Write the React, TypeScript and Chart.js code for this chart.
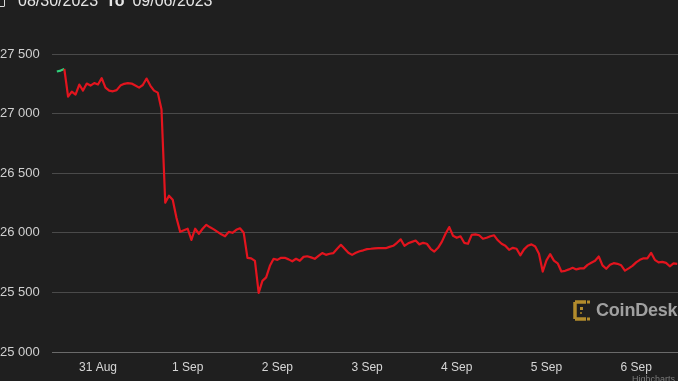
import React, { useEffect, useRef } from "react";
import { Chart, registerables } from "chart.js";

Chart.register(...registerables);

// Hourly BTC price, hours counted from 31 Aug 2023 00:00
const startHour = -11;
const prices = [
  27353, 27361, 27374, 27143, 27185, 27160, 27244, 27193, 27252, 27235, 27256,
  27244, 27298, 27218, 27193, 27187, 27197, 27235, 27250, 27256, 27252, 27235, 27218, 27240, 27294, 27235, 27193, 27176,
  27034, 26252, 26311, 26277, 26126, 26008, 26021, 26034, 25941, 26034, 25992, 26034, 26067, 26046, 26029, 26008, 25987, 25971, 26008, 26000, 26025, 26038, 26000,
  25790, 25786, 25765, 25496, 25597, 25626, 25723, 25782, 25773, 25790, 25790, 25777, 25761, 25782, 25765, 25798, 25803, 25794, 25782, 25807, 25830, 25815, 25824, 25830,
  25866, 25899, 25866, 25832, 25815, 25832, 25845, 25853, 25863, 25866, 25870, 25871, 25871, 25871, 25882, 25891, 25916, 25945, 25891, 25912, 25924, 25935, 25903, 25916,
  25908, 25866, 25843, 25874, 25924, 25992, 26048, 25975, 25958, 25971, 25916, 25908, 25983, 25987, 25979, 25950, 25958, 25971, 25979, 25937, 25908, 25891, 25857, 25874,
  25866, 25811, 25861, 25891, 25903, 25885, 25824, 25675, 25769, 25821, 25767, 25744, 25675, 25681, 25693, 25706, 25693, 25702, 25702, 25731, 25748, 25765, 25801, 25727,
  25698, 25731, 25745, 25740, 25727, 25683, 25702, 25723, 25752, 25773, 25786, 25786, 25832, 25773, 25752, 25756, 25748, 25719, 25744, 25740,
];
const tickHours = [0, 24, 48, 72, 96, 120, 144];
const tickLabels = ["31 Aug", "1 Sep", "2 Sep", "3 Sep", "4 Sep", "5 Sep", "6 Sep"];
const yTicks = [25000, 25500, 26000, 26500, 27000, 27500];
const rangeFrom = "08/30/2023";
const rangeTo = "09/06/2023";

const FONT = '"Liberation Sans", Arial, Helvetica, sans-serif';
const RED = "#e3141e";
const GREEN = "#2fd07a";

function fmt(v: number) {
  const th = Math.floor(v / 1000);
  const rest = String(v % 1000).padStart(3, "0");
  return `${th} ${rest}`;
}

export default function App() {
  const ref = useRef<HTMLCanvasElement | null>(null);

  useEffect(() => {
    if (!ref.current) return;
    const threshold = prices[0];
    const chart = new Chart(ref.current, {
      type: "line",
      data: {
        datasets: [
          {
            data: prices.map((p, i) => ({ x: startHour + i, y: p })),
            borderColor: RED,
            borderWidth: 2.2,
            pointRadius: 0,
            tension: 0,
            borderJoinStyle: "round",
            segment: {
              borderColor: (ctx: any) =>
                ctx.p0.parsed.y >= threshold && ctx.p1.parsed.y >= threshold ? GREEN : RED,
            },
          },
        ],
      },
      options: {
        responsive: false,
        animation: false,
        layout: { padding: { top: 54, left: 0, right: 0, bottom: 0 } },
        plugins: { legend: { display: false }, tooltip: { enabled: false } },
        scales: {
          x: {
            type: "linear",
            min: -12.3,
            max: 155.2,
            afterBuildTicks: (scale: any) => {
              scale.ticks = tickHours.map((v) => ({ value: v }));
            },
            afterFit: (scale: any) => {
              scale.height = 29;
            },
            grid: { display: false, drawTicks: false },
            border: { display: false },
            ticks: {
              autoSkip: false,
              maxRotation: 0,
              padding: 8,
              color: "#d6d6d6",
              font: { family: FONT, size: 12 },
              callback: (v: any) => {
                const i = tickHours.indexOf(Number(v));
                return i >= 0 ? tickLabels[i] : "";
              },
            },
          },
          y: {
            min: 25000,
            max: 27500,
            afterBuildTicks: (scale: any) => {
              scale.ticks = yTicks.map((v) => ({ value: v }));
            },
            afterFit: (scale: any) => {
              scale.width = 52;
            },
            grid: {
              drawTicks: false,
              lineWidth: 1,
              color: (ctx: any) => (ctx.tick && ctx.tick.value === 25000 ? "#6a6a6a" : "#4a4a4a"),
            },
            border: { display: false },
            ticks: {
              crossAlign: "far",
              padding: 0,
              color: "#d0d0d0",
              font: { family: FONT, size: 13 },
              callback: (v: any) => fmt(Number(v)),
            },
          },
        },
      },
    } as any);
    return () => chart.destroy();
  }, []);

  return (
    <div
      style={{
        position: "fixed",
        left: 0,
        top: 0,
        width: 678,
        height: 381,
        background: "#1f1f1f",
        overflow: "hidden",
        fontFamily: FONT,
      }}
    >
      <canvas ref={ref} width={678} height={381} style={{ position: "absolute", left: 0, top: 0 }} />
      <div
        style={{
          position: "absolute",
          left: -7,
          top: -7,
          width: 10,
          height: 12,
          border: "1.5px solid #d8d8d8",
          borderRadius: 1,
        }}
      />
      <div
        style={{
          position: "absolute",
          left: 18,
          top: -7,
          fontSize: 16,
          lineHeight: "16px",
          color: "#e6e6e6",
          whiteSpace: "nowrap",
        }}
      >
        <span>{rangeFrom}</span>
        <span style={{ fontWeight: "bold", margin: "0 8px" }}>To</span>
        <span>{rangeTo}</span>
      </div>
      <div
        style={{
          position: "absolute",
          left: 573,
          top: 300,
          display: "flex",
          alignItems: "center",
          whiteSpace: "nowrap",
        }}
      >
        <svg width="20" height="21" viewBox="0 0 20 21" style={{ marginRight: 3 }}>
          <path d="M2 2 H13 M2 2 V19 M2 19 H13" stroke="#b38c2c" strokeWidth="3.5" fill="none" />
          <rect x="14" y="0.5" width="3" height="3" fill="#b38c2c" />
          <rect x="14" y="17.5" width="3" height="3" fill="#b38c2c" />
          <rect x="7" y="7" width="3" height="3" fill="#b38c2c" />
          <rect x="7" y="12" width="2" height="2" fill="#8a6d22" />
        </svg>
        <span style={{ fontSize: 18, fontWeight: "bold", color: "#a0a0a0", letterSpacing: -0.2 }}>CoinDesk</span>
      </div>
      <div
        style={{
          position: "absolute",
          left: 632,
          top: 375,
          fontSize: 9,
          lineHeight: "9px",
          color: "#7a7a7a",
          whiteSpace: "nowrap",
        }}
      >
        Highcharts.com
      </div>
    </div>
  );
}
